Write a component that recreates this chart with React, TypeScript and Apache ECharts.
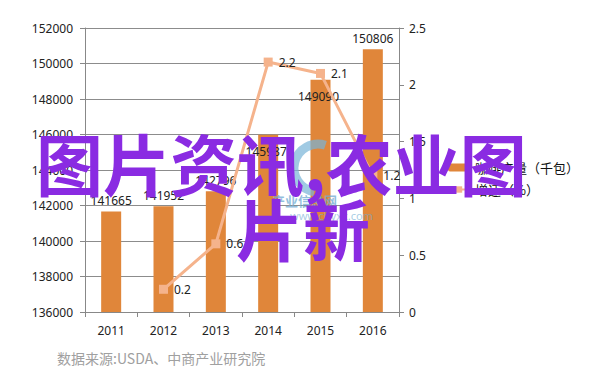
import React, { useEffect, useRef } from "react";
import * as echarts from "echarts";

const years = ["2011", "2012", "2013", "2014", "2015", "2016"];
const production = [141665, 141952, 142796, 145987, 149090, 150806];
const growth = [null, 0.2, 0.6, 2.2, 2.1, 1.2];
const seriesNames = ["咖啡产量（千包）", "增速（%）"];
const sourceText = "数据来源:USDA、中商产业研究院";
const watermarkLine1 = "图片资讯,农业图";
const watermarkLine2 = "片新";

export default function App() {
  const ref = useRef<HTMLDivElement>(null);
  useEffect(() => {
    document.body.style.margin = "0";
    const chart = echarts.init(ref.current!, null, { renderer: "svg" });
    const font = "Noto Sans";
    chart.setOption({
      animation: false,
      backgroundColor: "#ffffff",
      textStyle: { fontFamily: font },
      grid: { left: 85, right: 203, top: 28, bottom: 72 },
      legend: {
        orient: "vertical",
        left: 442,
        top: 156,
        itemGap: 9,
        itemWidth: 22,
        itemHeight: 8,
        textStyle: { fontSize: 13, color: "#111", fontFamily: "Noto Sans CJK SC" },
        data: seriesNames,
      },
      xAxis: {
        type: "category",
        data: years,
        boundaryGap: true,
        axisLine: { lineStyle: { color: "#888", width: 1 } },
        axisTick: { show: true, alignWithLabel: false, length: 5, lineStyle: { color: "#888" } },
        axisLabel: { color: "#222", fontSize: 12, margin: 12 },
      },
      yAxis: [
        {
          type: "value",
          min: 136000,
          max: 152000,
          interval: 2000,
          axisLine: { show: true, lineStyle: { color: "#888" } },
          axisTick: { show: true, length: 5, lineStyle: { color: "#888" } },
          axisLabel: { color: "#222", fontSize: 12, margin: 12, formatter: (v: number) => String(v) },
          splitLine: { lineStyle: { color: "#8c8c8c", width: 1 } },
        },
        {
          type: "value",
          min: 0,
          max: 2.5,
          interval: 0.5,
          axisLine: { show: true, lineStyle: { color: "#888" } },
          axisTick: { show: true, length: 5, lineStyle: { color: "#888" } },
          axisLabel: { color: "#222", fontSize: 12, margin: 10, formatter: (v: number) => String(v) },
          splitLine: { show: false },
        },
      ],
      series: [
        {
          name: seriesNames[0],
          type: "bar",
          data: production.map((v, i) =>
            i === 3 || i === 4
              ? { value: v, label: { position: "insideTop", offset: [-2, 6] } }
              : v
          ),
          barWidth: 20,
          itemStyle: { color: "#E0863A" },
          label: { show: true, position: "top", distance: 5, color: "#222", fontSize: 12 },
          z: 2,
        },
        {
          name: seriesNames[1],
          type: "line",
          yAxisIndex: 1,
          data: growth,
          symbol: "rect",
          symbolSize: 9,
          connectNulls: false,
          lineStyle: { color: "#F5B38C", width: 3 },
          itemStyle: { color: "#F5B38C" },
          label: { show: true, position: "right", distance: 6, color: "#222", fontSize: 12 },
          z: 3,
        },
      ],
      graphic: [
        {
          type: "arc",
          z: 50,
          shape: { cx: 318, cy: 168, r: 24, startAngle: Math.PI * 0.55, endAngle: Math.PI * 1.6 },
          style: { stroke: "rgba(120,180,215,0.7)", lineWidth: 9, fill: "none" },
        },
        {
          type: "text",
          z: 50,
          left: 272,
          top: 194,
          style: { text: "产业信息网", fontSize: 13, fill: "rgba(110,170,210,0.75)", fontFamily: "Noto Sans CJK SC", fontWeight: "bold" },
        },
        {
          type: "text",
          z: 50,
          left: 290,
          top: 210,
          style: { text: "www.chyxx.com", fontSize: 11, fill: "rgba(110,170,210,0.6)", fontFamily: "Noto Sans" },
        },
        {
          type: "text",
          z: 100,
          left: 36,
          top: 128,
          style: {
            text: watermarkLine1,
            fontSize: 67,
            fontWeight: "bold",
            fill: "#8A2BE2",
            fontFamily: "Noto Sans CJK SC",
          },
        },
        {
          type: "text",
          z: 100,
          left: 236,
          top: 193,
          style: {
            text: watermarkLine2,
            fontSize: 67,
            fontWeight: "bold",
            fill: "#8A2BE2",
            fontFamily: "Noto Sans CJK SC",
          },
        },
        {
          type: "text",
          z: 100,
          left: 57,
          top: 351,
          style: {
            text: sourceText,
            fontSize: 14,
            fill: "#a0a0a0",
            fontFamily: "Noto Sans CJK SC",
          },
        },
      ],
    });
    return () => chart.dispose();
  }, []);
  return <div ref={ref} style={{ width: 602, height: 384 }} />;
}
